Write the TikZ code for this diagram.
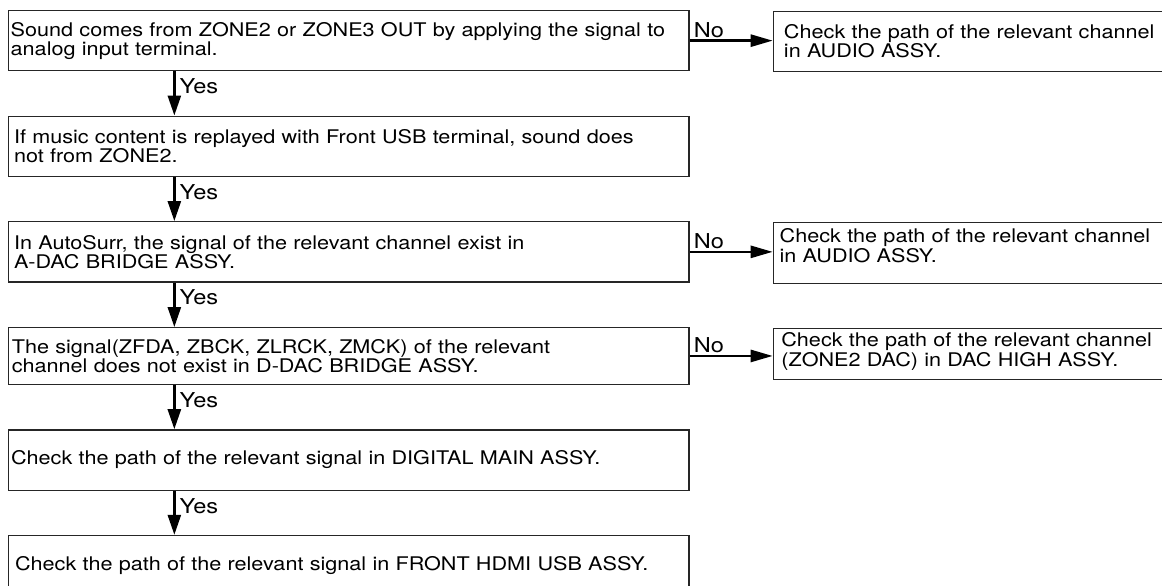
\documentclass[tikz,border=0pt]{standalone}
\usepackage{fontspec}
\setmainfont{TeX Gyre Heros}[FakeStretch=1.15]
\usetikzlibrary{arrows.meta}

\begin{document}
\begin{tikzpicture}[x=1pt, y=-1pt,
  every node/.style={font=\fontsize{18.8}{16.5}\selectfont},
  mbox/.style={draw=black!85, line width=1.3pt, rectangle, align=left, inner xsep=0pt, minimum width=680.7pt, minimum height=60.3pt, text width=675.3pt},
  rbox/.style={draw=black!85, line width=1.3pt, rectangle, align=left, inner xsep=0pt, minimum width=407.3pt, anchor=north west},
  yesarr/.style={line width=2.6pt, -{Triangle[length=20pt, width=13pt]}},
  noarr/.style={line width=2.6pt, -{Triangle[length=22pt, width=12pt]}},
  yes/.style={font=\fontsize{20.5}{20.5}\selectfont, anchor=north west, inner sep=0pt, xshift=4pt, yshift=-6pt},
  no/.style={font=\fontsize{20.5}{20.5}\selectfont, anchor=south west, inner sep=0pt, xshift=3pt, yshift=2pt}]
  \clip (0,0) rectangle (1162,586);

  % main column
  \node (b1) [mbox, text width=675.9pt] at (348.65, 40.65) {Sound comes from ZONE2 or ZONE3 OUT by applying the signal to\\analog input terminal.};
  \node (b2) [mbox, text width=669.3pt] at (348.65, 146.3) {If music content is replayed with Front USB terminal, sound does\\not from ZONE2.};
  \node (b3) [mbox, text width=669.3pt] at (348.65, 251.85) {In AutoSurr, the signal of the relevant channel exist in\\A-DAC BRIDGE ASSY.};
  \node (b4) [mbox, text width=673.7pt, minimum height=56.5pt] at (348.65, 355.95) {The signal(ZFDA, ZBCK, ZLRCK, ZMCK) of the relevant\\channel does not exist in D-DAC BRIDGE ASSY.};
  \node (b5) [mbox] at (348.65, 460) {Check the path of the relevant signal in DIGITAL MAIN ASSY.};
  \node (b6) [mbox, text width=667.3pt] at (348.65, 565.6) {Check the path of the relevant signal in FRONT HDMI USB ASSY.};

  % right column
  \node (r1) [rbox, text width=386.1pt, minimum height=60pt] at (772.7, 10.7) {Check the path of the relevant channel\\in AUDIO ASSY.};
  \node (r2) [rbox, text width=394.7pt, inner ysep=6.6pt, text depth=34.1pt] at (772.7, 221.7) {Check the path of the relevant channel\\in AUDIO ASSY.};
  \node (r3) [rbox, text width=391.3pt, inner ysep=4.5pt, text depth=28.3pt, font=\fontsize{18.8}{14}\selectfont] at (772.7, 327.7) {Check the path of the relevant channel\\(ZONE2 DAC) in DAC HIGH ASSY.};

  \draw[yesarr] ([xshift=166.7pt]b1.south west) -- node[yes, pos=0] {Yes} ([xshift=166.7pt]b2.north west);
  \draw[yesarr] ([xshift=166.7pt]b2.south west) -- node[yes, pos=0] {Yes} ([xshift=166.7pt]b3.north west);
  \draw[yesarr] ([xshift=166.7pt]b3.south west) -- node[yes, pos=0] {Yes} ([xshift=166.7pt]b4.north west);
  \draw[yesarr] ([xshift=166.7pt]b4.south west) -- node[yes, pos=0] {Yes} ([xshift=166.7pt]b5.north west);
  \draw[yesarr] ([xshift=166.7pt]b5.south west) -- node[yes, pos=0] {Yes} ([xshift=166.7pt]b6.north west);

  \draw[noarr] (b1.east) -- node[no, pos=0] {No} (b1.east -| r1.west);
  \draw[noarr] (b3.east) -- node[no, pos=0] {No} (b3.east -| r2.west);
  \draw[noarr] (b4.east) -- node[no, pos=0] {No} (b4.east -| r3.west);
\end{tikzpicture}
\end{document}
